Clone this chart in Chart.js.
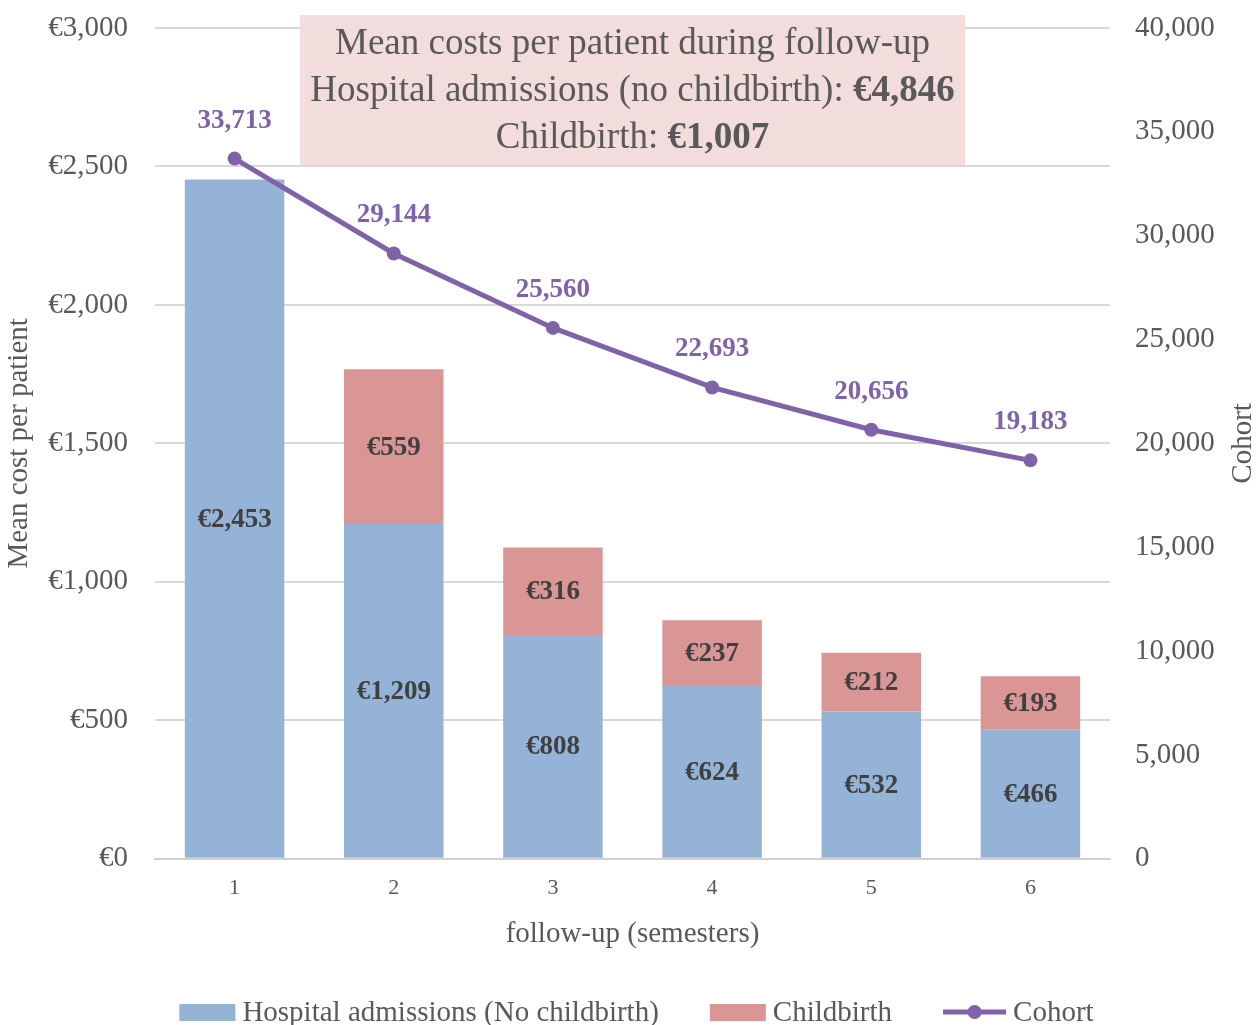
<!DOCTYPE html>
<html><head><meta charset="utf-8">
<script src="https://cdn.jsdelivr.net/npm/chart.js@4.4.1/dist/chart.umd.min.js"></script>
<style>html,body{margin:0;padding:0;background:#fff;}</style>
</head><body>
<canvas id="c" width="1256" height="1025"></canvas>
<script>
// ---- data ----
const semesters = ['1', '2', '3', '4', '5', '6'];
const hospitalCosts = [2453, 1209, 808, 624, 532, 466];
const childbirthCosts = [0, 559, 316, 237, 212, 193];
const cohortSizes = [33713, 29144, 25560, 22693, 20656, 19183];
const seriesNames = ['Hospital admissions (No childbirth)', 'Childbirth', 'Cohort'];
const summaryTitle = 'Mean costs per patient during follow-up';
const summaryLabels = ['Hospital admissions (no childbirth): ', 'Childbirth: '];
const summaryValues = [4846, 1007];

// ---- styles ----
const FONT = "'Liberation Serif', 'Times New Roman', serif";
const BLUE = '#95b3d7', RED = '#d99694', PURPLE = '#7f62a8', TXT = '#595959';
const fmt = v => v.toLocaleString('en-US');
const eur = v => '€' + fmt(v);

const overlayPlugin = {
  id: 'overlay',
  afterDatasetsDraw(chart) {
    const ctx = chart.ctx;
    ctx.save();
    ctx.textAlign = 'center';
    ctx.textBaseline = 'middle';
    ctx.font = 'bold 27px ' + FONT;
    ctx.fillStyle = '#404040';
    [0, 1].forEach(di => {
      const meta = chart.getDatasetMeta(di);
      const data = chart.data.datasets[di].data;
      meta.data.forEach((el, i) => {
        if (!data[i]) return;
        const p = el.getProps(['x', 'y', 'base'], true);
        ctx.fillText(eur(data[i]), p.x, (p.y + p.base) / 2 + 1);
      });
    });
    const lm = chart.getDatasetMeta(2);
    ctx.fillStyle = PURPLE;
    lm.data.forEach((el, i) => {
      ctx.fillText(fmt(chart.data.datasets[2].data[i]), el.x, el.y - 38);
    });
    ctx.restore();
  },
  afterDraw(chart) {
    const ctx = chart.ctx;
    const ca = chart.chartArea;
    ctx.save();
    // summary box
    const cx = (ca.left + ca.right) / 2;
    const bw = 665, bh = 150, by = 15;
    ctx.fillStyle = '#f2dcdc';
    ctx.fillRect(cx - bw / 2, by, bw, bh);
    const lines = [
      [[summaryTitle, false]],
      [[summaryLabels[0], false], [eur(summaryValues[0]), true]],
      [[summaryLabels[1], false], [eur(summaryValues[1]), true]]
    ];
    ctx.textBaseline = 'middle';
    ctx.textAlign = 'left';
    ctx.fillStyle = TXT;
    lines.forEach((segs, li) => {
      let w = 0;
      segs.forEach(s => { ctx.font = (s[1] ? 'bold ' : '') + '37px ' + FONT; w += ctx.measureText(s[0]).width; });
      let x = cx - w / 2;
      const y = by + 29 + li * 47;
      segs.forEach(s => {
        ctx.font = (s[1] ? 'bold ' : '') + '37px ' + FONT;
        ctx.fillText(s[0], x, y);
        x += ctx.measureText(s[0]).width;
      });
    });
    // right axis title
    ctx.save();
    ctx.translate(1243, (ca.top + ca.bottom) / 2);
    ctx.rotate(-Math.PI / 2);
    ctx.textAlign = 'center';
    ctx.font = '29px ' + FONT;
    ctx.fillText('Cohort', 0, 0);
    ctx.restore();
    // legend
    ctx.font = '29px ' + FONT;
    const items = [
      {kind: 'box', color: BLUE, text: seriesNames[0], sw: 56},
      {kind: 'box', color: RED, text: seriesNames[1], sw: 56},
      {kind: 'line', color: PURPLE, text: seriesNames[2], sw: 63}
    ];
    const gapIn = 7, gapOut = 51;
    let total = 0;
    items.forEach((it, i) => { it.tw = ctx.measureText(it.text).width; total += it.sw + gapIn + it.tw + (i ? gapOut : 0); });
    let x = (ca.left + ca.right) / 2 + 4 - total / 2;
    const ly = 1012;
    items.forEach(it => {
      if (it.kind === 'box') {
        ctx.fillStyle = it.color;
        ctx.fillRect(x, ly - 8, it.sw, 17);
      } else {
        ctx.strokeStyle = it.color; ctx.lineWidth = 5;
        ctx.beginPath(); ctx.moveTo(x, ly); ctx.lineTo(x + it.sw, ly); ctx.stroke();
        ctx.fillStyle = it.color;
        ctx.beginPath(); ctx.arc(x + it.sw / 2, ly, 7, 0, Math.PI * 2); ctx.fill();
      }
      x += it.sw + gapIn;
      ctx.fillStyle = TXT;
      ctx.textAlign = 'left';
      ctx.fillText(it.text, x, ly + 1);
      x += it.tw + gapOut;
    });
    ctx.restore();
  }
};

const noVPad = s => { s.paddingTop = 0; s.paddingBottom = 0; };

new Chart(document.getElementById('c'), {
  data: {
    labels: semesters,
    datasets: [
      {type: 'bar', label: seriesNames[0], data: hospitalCosts, backgroundColor: BLUE, yAxisID: 'y', order: 2, barPercentage: 0.625, categoryPercentage: 1},
      {type: 'bar', label: seriesNames[1], data: childbirthCosts, backgroundColor: RED, yAxisID: 'y', order: 2, barPercentage: 0.625, categoryPercentage: 1},
      {type: 'line', label: seriesNames[2], data: cohortSizes, borderColor: PURPLE, backgroundColor: PURPLE, borderWidth: 5,
       pointRadius: 7, pointBackgroundColor: PURPLE, pointBorderWidth: 0, yAxisID: 'y1', order: 0, tension: 0}
    ]
  },
  options: {
    responsive: false,
    animation: false,
    layout: {padding: {top: 28, bottom: 73, left: 0, right: 0}},
    plugins: {legend: {display: false}, tooltip: {enabled: false}},
    scales: {
      x: {
        stacked: true,
        grid: {display: false, drawTicks: false},
        border: {display: true, color: '#d0d0d0', width: 2},
        ticks: {padding: 16, color: TXT, font: {family: FONT, size: 22}},
        title: {display: true, text: 'follow-up (semesters)', color: TXT, font: {family: FONT, size: 29}, padding: {top: 0, bottom: 0}}
      },
      y: {
        stacked: true, position: 'left', min: 0, max: 3000,
        ticks: {stepSize: 500, padding: 27, color: TXT, font: {family: FONT, size: 29}, callback: v => eur(v)},
        grid: {color: '#d9d9d9', lineWidth: 2, drawTicks: false},
        border: {display: false},
        title: {display: true, text: 'Mean cost per patient', color: TXT, font: {family: FONT, size: 29}, padding: {top: 2, bottom: 0}},
        afterFit: s => { s.width = 155; noVPad(s); }
      },
      y1: {
        position: 'right', min: 0, max: 40000,
        ticks: {stepSize: 5000, padding: 25, color: TXT, font: {family: FONT, size: 29}, callback: v => fmt(v)},
        grid: {display: false, drawTicks: false},
        border: {display: false},
        afterFit: s => { s.width = 146; noVPad(s); }
      }
    }
  },
  plugins: [overlayPlugin]
});
</script>
</body></html>
